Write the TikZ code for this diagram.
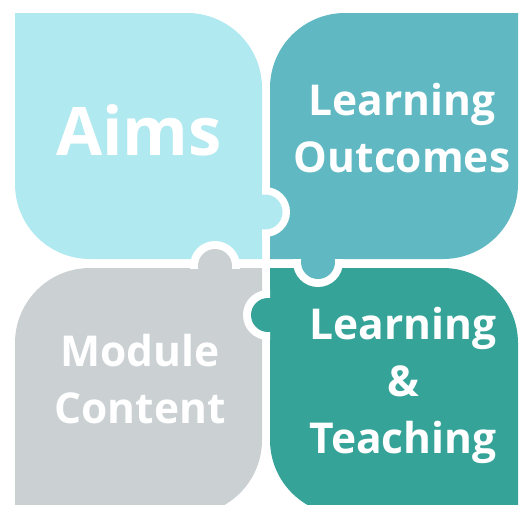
\documentclass[tikz,border=0pt]{standalone}
\usepackage{fontspec}
\setmainfont{Open Sans}
\definecolor{aimsblue}{RGB}{176,233,240}
\definecolor{outteal}{RGB}{95,184,194}
\definecolor{teachgreen}{RGB}{54,163,152}
\definecolor{modgrey}{RGB}{203,208,211}
\tikzset{piecetext/.style={text=white,font=\bfseries\fontsize{42.5}{57}\selectfont,align=center,anchor=base}}

\begin{document}
\begin{tikzpicture}[x=1pt,y=-1pt]
\useasboundingbox (0,0) rectangle (519,504);
\clip (0,0) rectangle (519,504);
\fill [aimsblue] (15,13) -- (187,13) arc (270:360:75) -- (262,259) -- (90,259) arc (90:180:75) -- cycle;
\fill [outteal] (270,88) arc (180:270:75) -- (518,13) -- (518,184) arc (0:90:75) -- (270,259) -- cycle;
\fill [modgrey] (15,343) arc (180:270:75) -- (262,268) -- (262,440) arc (0:90:75) -- (15,515) -- cycle;
\fill [teachgreen] (270,268) -- (443,268) arc (270:360:75) -- (518,515) -- (345,515) arc (90:180:75) -- cycle;
\begin{scope}
\clip (262,0) rectangle (519,259);
\fill [white] (265,212) circle (25);
\end{scope}
\fill [aimsblue] (265,212) circle (17.5);
\begin{scope}
\clip (270,259) rectangle (519,504);
\fill [white] (318,262) circle (25);
\end{scope}
\fill [outteal] (318,262) circle (17);
\begin{scope}
\clip (0,268) rectangle (270,504);
\fill [white] (268,315) circle (25);
\end{scope}
\fill [teachgreen] (268,315) circle (17);
\begin{scope}
\clip (0,0) rectangle (262,268);
\fill [white] (215,266) circle (25);
\end{scope}
\fill [modgrey] (215,266) circle (17);
\node [piecetext,font=\bfseries\fontsize{67}{70}\selectfont] (aims) at (139,155) {Aims};
\node [piecetext] (outcomes) at (402,172) {Learning\\Outcomes};
\node [piecetext] (content) at (140,423) {Module\\Content};
\node [piecetext] (teaching) at (403,453) {Learning\\\&\\Teaching};
\end{tikzpicture}
\end{document}
